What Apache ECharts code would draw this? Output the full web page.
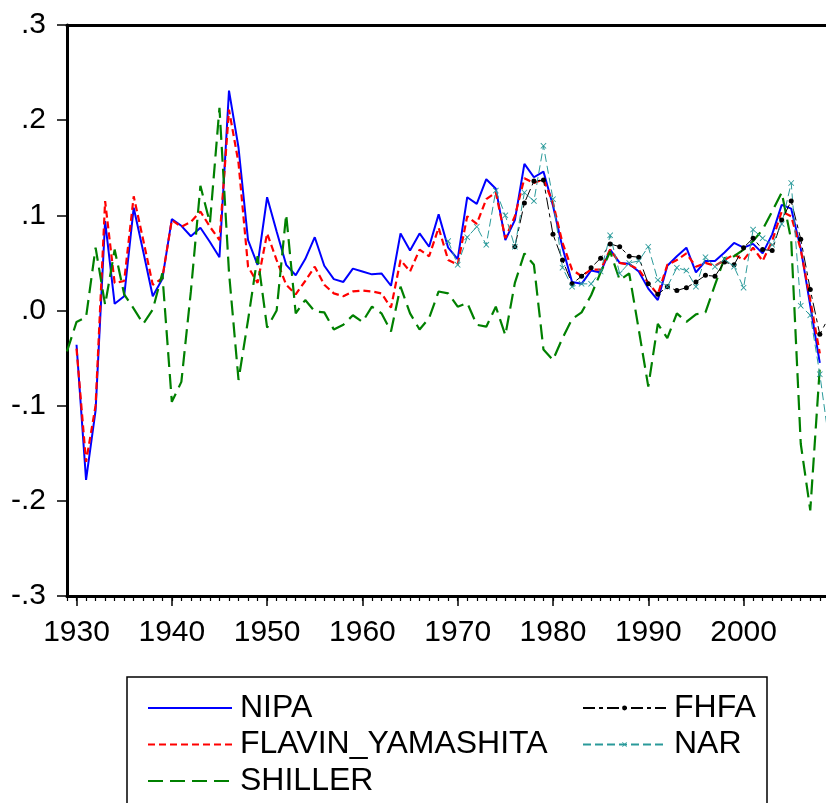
<!DOCTYPE html>
<html>
<head>
<meta charset="utf-8">
<script src="https://cdn.jsdelivr.net/npm/echarts@6/dist/echarts.min.js"></script>
<style>
  html, body { margin: 0; padding: 0; background: #fff; }
  #chart { width: 826px; height: 803px; }
</style>
</head>
<body>
<div id="chart"></div>
<script>
// x axis: starts at 1929, the picture is cut off a bit before 2009
const firstYear = 1929
const axisEnd = 2008.65
const yearTicks = []
for (let y = firstYear; y <= 2008; y++) yearTicks.push(y)
const decadeTicks = [1930, 1940, 1950, 1960, 1970, 1980, 1990, 2000]

const yTicks = [-0.3, -0.2, -0.1, 0, 0.1, 0.2, 0.3]

// series values, each with its first year
const nipaStart = 1930
const nipa = [
  -0.036, -0.178, -0.105, 0.094, 0.007, 0.015, 0.108, 0.062, 0.015, 0.033,
  0.096, 0.089, 0.078, 0.087, 0.072, 0.056, 0.231, 0.171, 0.074, 0.048,
  0.119, 0.083, 0.048, 0.037, 0.054, 0.077, 0.047, 0.033, 0.030, 0.044,
  0.041, 0.038, 0.039, 0.026, 0.081, 0.063, 0.081, 0.067, 0.101, 0.066,
  0.054, 0.119, 0.112, 0.138, 0.128, 0.074, 0.095, 0.154, 0.140, 0.146,
  0.110, 0.066, 0.030, 0.028, 0.042, 0.040, 0.064, 0.050, 0.049, 0.041,
  0.023, 0.011, 0.047, 0.057, 0.066, 0.040, 0.052, 0.052, 0.061, 0.071,
  0.066, 0.070, 0.060, 0.080, 0.111, 0.107, 0.065, 0.005, -0.055
]

const flavinStart = 1930
const flavin = [
  -0.040, -0.159, -0.100, 0.115, 0.029, 0.031, 0.120, 0.074, 0.027, 0.034,
  0.095, 0.088, 0.093, 0.104, 0.088, 0.074, 0.211, 0.155, 0.046, 0.029,
  0.081, 0.053, 0.027, 0.017, 0.031, 0.046, 0.027, 0.018, 0.015, 0.020,
  0.021, 0.020, 0.018, 0.003, 0.053, 0.041, 0.064, 0.057, 0.087, 0.053,
  0.048, 0.099, 0.091, 0.117, 0.124, 0.076, 0.099, 0.139, 0.134, 0.138,
  0.113, 0.071, 0.043, 0.036, 0.043, 0.043, 0.064, 0.050, 0.048, 0.043,
  0.029, 0.017, 0.048, 0.053, 0.060, 0.046, 0.050, 0.047, 0.053, 0.059,
  0.053, 0.066, 0.052, 0.073, 0.104, 0.099, 0.064, 0.011, -0.045
]

const shillerStart = 1929
const shiller = [
  -0.043, -0.012, -0.007, 0.066, 0.006, 0.064, 0.017, 0.002, -0.014, 0.001,
  0.039, -0.096, -0.075, 0.020, 0.131, 0.092, 0.213, 0.040, -0.073, -0.010,
  0.057, -0.018, 0.000, 0.101, -0.003, 0.011, -0.001, -0.002, -0.020, -0.015,
  -0.005, -0.012, 0.004, -0.003, -0.022, 0.025, -0.003, -0.020, -0.008, 0.020,
  0.018, 0.004, 0.008, -0.015, -0.017, 0.004, -0.026, 0.029, 0.060, 0.048,
  -0.041, -0.052, -0.029, -0.009, -0.002, 0.016, 0.040, 0.062, 0.032, 0.039,
  -0.020, -0.080, -0.014, -0.029, -0.003, -0.012, -0.004, -0.002, 0.027, 0.055,
  0.057, 0.064, 0.073, 0.085, 0.104, 0.124, 0.074, -0.140, -0.210, -0.060
]

const fhfaStart = 1976
const fhfa = [
  0.067, 0.113, 0.136, 0.137, 0.080, 0.053, 0.028, 0.036, 0.045, 0.055,
  0.070, 0.067, 0.057, 0.056, 0.028, 0.017, 0.025, 0.021, 0.024, 0.030,
  0.037, 0.036, 0.051, 0.048, 0.066, 0.076, 0.064, 0.063, 0.095, 0.115,
  0.075, 0.022, -0.025, -0.006
]

const narStart = 1969
const nar = [
  0.073, 0.048, 0.077, 0.088, 0.069, 0.126, 0.100, 0.067, 0.124, 0.115,
  0.173, 0.117, 0.045, 0.025, 0.028, 0.028, 0.041, 0.079, 0.039, 0.050,
  0.052, 0.067, 0.032, 0.025, 0.045, 0.042, 0.025, 0.056, 0.046, 0.054,
  0.046, 0.024, 0.085, 0.076, 0.069, 0.091, 0.134, 0.005, -0.005, -0.067,
  -0.140
]

const legendLeft = ['NIPA', 'FLAVIN_YAMASHITA', 'SHILLER']
const legendRight = ['FHFA', 'NAR']

// [year, value] pairs for the value x axis
function withYears(start, values) {
  return values.map((v, i) => [start + i, v])
}

const font = 'Liberation Sans, Arial, sans-serif'
const crossPath = 'path://M0,1L1,0L5,4L9,0L10,1L6,5L10,9L9,10L5,6L1,10L0,9L4,5Z'

const chart = echarts.init(document.getElementById('chart'), null, { renderer: 'canvas' })

// one legend per row, so the rows sit where the original has them
// (markerOpacity 0 hides the dot that the legend puts on plain lines)
function legendRow(name, left, itemWidth, pad, row, markerOpacity) {
  return {
    data: [name],
    orient: 'horizontal',
    left: left, top: 687 + row * 36.5,
    itemWidth: itemWidth, itemHeight: 6,
    itemStyle: { opacity: markerOpacity },
    textStyle: {
      fontFamily: font, fontSize: 32, color: '#000', lineHeight: 30,
      padding: [0, 0, 0, pad]
    }
  }
}

const baseX = {
  type: 'value',
  min: firstYear,
  max: axisEnd,
  splitLine: { show: false }
}

const option = {
  animation: false,
  backgroundColor: '#fff',
  textStyle: { fontFamily: font },
  grid: { left: 67, top: 25, right: 0, bottom: 207 },
  legend: [
    ...legendLeft.map((n, i) => legendRow(n, 142, 84, 3, i, 0)),
    ...legendRight.map((n, i) => legendRow(n, 577, 83, 3, i, 1))
  ],
  graphic: [
    {
      type: 'rect',
      shape: { x: 127, y: 677, width: 640, height: 200 },
      style: { fill: 'none', stroke: '#000', lineWidth: 1.5 },
      silent: true
    }
  ],
  xAxis: [
    Object.assign({}, baseX, {
      position: 'bottom',
      axisLine: { onZero: false, lineStyle: { color: '#000', width: 3 } },
      axisTick: { customValues: yearTicks, length: 5, lineStyle: { color: '#000', width: 1.2 } },
      axisLabel: { show: false }
    }),
    Object.assign({}, baseX, {
      position: 'bottom',
      axisLine: { show: false, onZero: false },
      axisTick: { customValues: decadeTicks, length: 10, lineStyle: { color: '#000', width: 1.5 } },
      axisLabel: {
        customValues: decadeTicks, margin: 22,
        fontFamily: font, fontSize: 30, color: '#000',
        formatter: v => String(v)
      }
    }),
    Object.assign({}, baseX, {
      position: 'top',
      axisLine: { onZero: false, lineStyle: { color: '#000', width: 3 } },
      axisTick: { show: false },
      axisLabel: { show: false }
    })
  ],
  yAxis: {
    type: 'value',
    min: yTicks[0],
    max: yTicks[yTicks.length - 1],
    interval: 0.1,
    axisLine: { show: true, onZero: false, lineStyle: { color: '#000', width: 3 } },
    axisTick: { show: true, length: 10, lineStyle: { color: '#000', width: 1.5 } },
    axisLabel: {
      margin: 21,
      fontFamily: font, fontSize: 30, color: '#000',
      formatter: v => {
        const s = (Math.round(v * 10) / 10).toFixed(1)
        return s.replace('0.', '.')
      }
    },
    splitLine: { show: false }
  },
  series: [
    {
      name: 'NIPA', type: 'line', xAxisIndex: 0,
      data: withYears(nipaStart, nipa),
      symbol: 'circle', showSymbol: false, color: '#0000ff',
      lineStyle: { color: '#0000ff', width: 2 }
    },
    {
      name: 'FLAVIN_YAMASHITA', type: 'line', xAxisIndex: 0,
      data: withYears(flavinStart, flavin),
      symbol: 'circle', showSymbol: false, color: '#ff0000',
      lineStyle: { color: '#ff0000', width: 2.2, type: [7, 4] }
    },
    {
      name: 'SHILLER', type: 'line', xAxisIndex: 0,
      data: withYears(shillerStart, shiller),
      symbol: 'circle', showSymbol: false, color: '#008000',
      lineStyle: { color: '#008000', width: 2.2, type: [15, 7] }
    },
    {
      name: 'FHFA', type: 'line', xAxisIndex: 0,
      data: withYears(fhfaStart, fhfa),
      symbol: 'circle', symbolSize: 5, color: '#000',
      itemStyle: { color: '#000' },
      lineStyle: { color: '#000', width: 1, type: [12, 4, 4, 4] }
    },
    {
      name: 'NAR', type: 'line', xAxisIndex: 0,
      data: withYears(narStart, nar),
      symbol: crossPath, symbolSize: 6, color: '#2a9a9a',
      itemStyle: { color: '#2a9a9a' },
      lineStyle: { color: '#2a9a9a', width: 1, type: [8, 4] }
    }
  ]
}

chart.setOption(option)
</script>
</body>
</html>
